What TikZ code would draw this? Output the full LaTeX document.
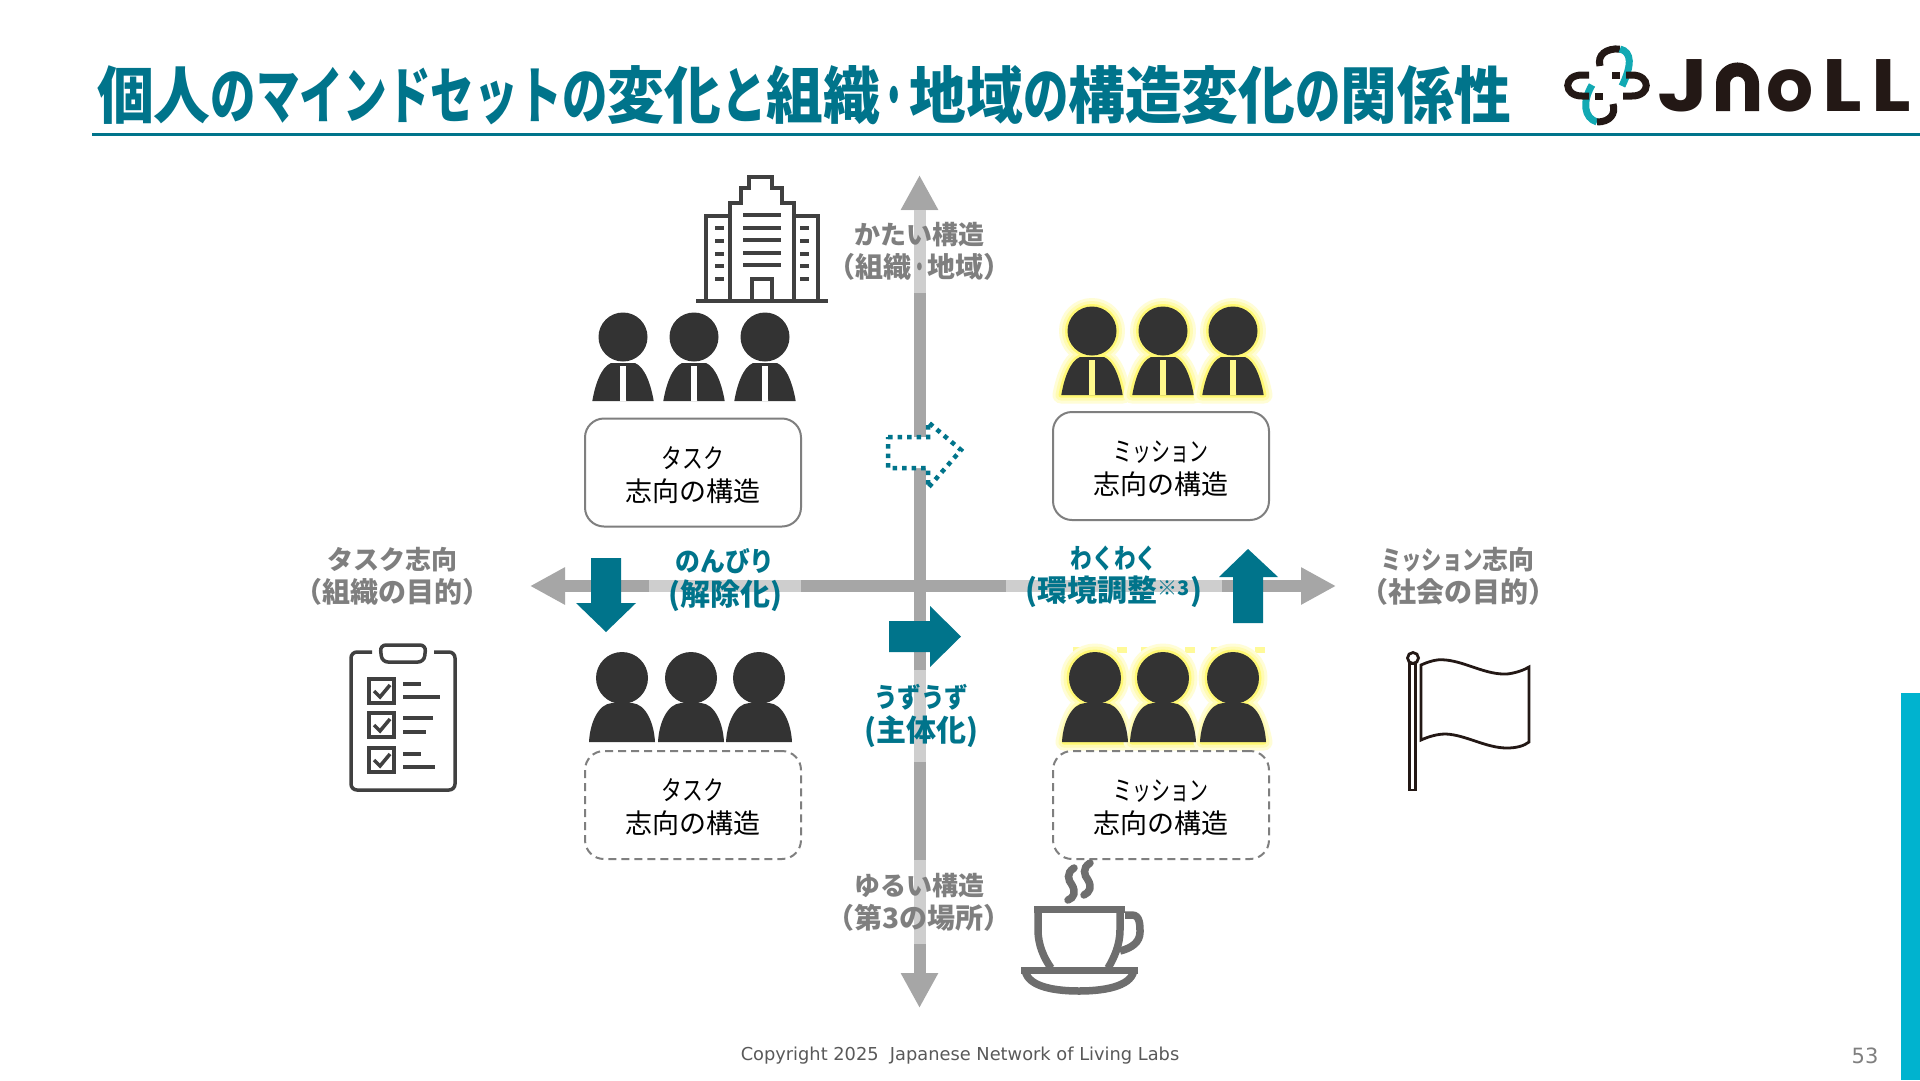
\documentclass[tikz,border=0pt]{standalone}
\usepackage{fontspec}
\usepackage{graphicx}
\setmainfont{Noto Sans CJK JP}
\newfontfamily\titlef{Noto Sans CJK JP Black}
\newfontfamily\latf{DejaVu Sans}
\newfontfamily\logof{Poppins}[BoldFont=* Bold]
\usetikzlibrary{arrows.meta}
\definecolor{teal1}{HTML}{00748B}
\definecolor{gaxis}{HTML}{A6A6A6}
\definecolor{glabel}{HTML}{7F7F7F}
\definecolor{dark1}{HTML}{333333}
\definecolor{icon1}{HTML}{404040}
\definecolor{icon2}{HTML}{6E6E6E}
\definecolor{cyan1}{HTML}{00B3CF}
\definecolor{logoblack}{HTML}{231815}
\definecolor{logoteal}{HTML}{12A9B3}
\newcommand{\kana}[2][.74]{\scalebox{#1}[1]{#2}}
\newcommand{\bigline}[1]{{\fontsize{28}{33}\selectfont #1}}
\newcommand{\tbigline}[1]{{\fontsize{30}{33}\selectfont #1}}
\newcommand{\boxstrut}{\rule{0pt}{27pt}}
\newcommand{\mysuit}[3]{%
  \begin{scope}[shift={(#1,#2)}]
    \fill[dark1] (0,0) circle (24.5);
    \fill[dark1] (-30.7,64) .. controls (-28,48) and (-22,30) .. (-12,26) -- (12,26) .. controls (22,30) and (28,48) .. (30.7,64) -- cycle;
    \fill[#3] (-2.8,29) -- (2.8,29) -- (3,64) -- (-3,64) -- cycle;
  \end{scope}}
\newcommand{\myplain}[2]{%
  \begin{scope}[shift={(#1,#2)}]
    \fill[dark1] (0,0) circle (26);
    \fill[dark1] (-33,64) .. controls (-32,45) and (-24,26) .. (-10,25) -- (10,25) .. controls (24,26) and (32,45) .. (33,64) -- cycle;
  \end{scope}}
\newcommand{\myhalo}[3]{%
  \begin{scope}[shift={(#1,#2)}]
    \foreach \lw/\cc in {17/yellow!16,11/yellow!30,5/yellow!55}{
      \draw[line width=\lw pt,draw=\cc,line join=round] (0,0) circle (#3);
      \draw[line width=\lw pt,draw=\cc,line join=round] (-31,64) .. controls (-28,48) and (-22,30) .. (-12,26) -- (12,26) .. controls (22,30) and (28,48) .. (31,64) -- cycle;
    }
  \end{scope}}
\tikzset{
  axisline/.style={line width=12pt,draw=gaxis,{Triangle[width=35pt,length=35pt]}-{Triangle[width=35pt,length=35pt]}},
  veil/.style={fill=white,fill opacity=.45,text opacity=1,inner sep=0pt,align=center},
  glabeltext/.style={font=\fontsize{26}{33}\selectfont\bfseries,text=glabel},
  tlabeltext/.style={font=\fontsize{27}{34}\selectfont\bfseries,text=teal1},
  plainlabel/.style={inner sep=0pt,align=center},
  solidbox/.style={draw=glabel,line width=2pt,rounded corners=19pt,fill=white,minimum width=216pt,minimum height=108pt,align=center,inner sep=0pt,font=\fontsize{27}{33}\selectfont,text=black},
  dashbox/.style={solidbox,dash pattern=on 8pt off 5pt},
  tealarrow/.style={fill=teal1},
  icon/.style={draw=icon1,line width=4pt,fill=none},
  iconfine/.style={draw=icon1,line width=3.5pt},
  cupline/.style={draw=icon2,line width=7.5pt,line cap=round},
  logoblk/.style={draw=logoblack,line width=7pt},
  logotl/.style={draw=logoteal,line width=7pt},
  logoletter/.style={inner sep=0pt,anchor=base,font=\fontsize{74}{74}\selectfont\logof\bfseries,text=logoblack},
}
\begin{document}
\begin{tikzpicture}[x=1pt,y=-1pt]
\useasboundingbox (0,0) rectangle (1920,1080);
\fill[white] (0,0) rectangle (1920,1080);
% title
\node[inner sep=0pt,anchor=west,text=teal1,font=\fontsize{54}{54}\selectfont\titlef] (title) at (97,95)
  {\resizebox{1414pt}{53pt}{個人\kana[.8]{の}\kana[.77]{マインドセット}\kana[.8]{の}変化\kana[.8]{と}組織\kana[.52]{・}地域\kana[.8]{の}構造変化\kana[.8]{の}関係性}};
\coordinate (ruleL) at (92,134);
\coordinate (ruleR) at (1920,134);
\draw[teal1,line width=3pt] (ruleL) -- (ruleR);
\fill[cyan1] (1901,693) rectangle (1920,1080);
% logo icon
\draw[logoblk] (1600,66) .. controls (1597,55) and (1606,48) .. (1620,49);
\draw[logotl] (1620,49) .. controls (1632,52) and (1632,65) .. (1622,86);
\draw[logotl] (1592,85) .. controls (1582,102) and (1584,118) .. (1597,122);
\draw[logoblk] (1597,122) .. controls (1610,122) and (1616,114) .. (1613,104);
\draw[logoblk] (1589,75) -- (1582,75) .. controls (1563,75) and (1563,96) .. (1582,96) -- (1589,96);
\draw[logoblk] (1612,75) -- (1620,75);
\draw[logoblk] (1626,75) -- (1632,75) .. controls (1651,75) and (1651,96) .. (1632,96) -- (1623,96);
\draw[logoblk] (1595,96) -- (1603,96);
% logo text
\node[logoletter] (logoJ) at (1683,111) {\kana[1.2]{J}};
\draw[draw=logoblack,line width=14pt] (1723,111) -- (1723,84) arc[start angle=180,end angle=360,radius=14.5] -- (1752,111);
\node[logoletter] (logoO) at (1790,111) {o};
\node[logoletter] (logoL) at (1842,111) {\kana[1.12]{L}};
\node[logoletter] (logoLL) at (1891,111) {\kana[1.12]{L}};
% axes
\coordinate (axT) at (919.5,175);
\coordinate (axB) at (919.5,1008);
\coordinate (axL) at (530,586);
\coordinate (axR) at (1336,586);
\draw[axisline] (axT) -- (axB);
\draw[axisline] (axL) -- (axR);
% axis labels
\node[veil,glabeltext,minimum width=170pt,minimum height=83pt] (lblHard) at (919.5,251.5)
  {かたい構造\\\bigline{（組織\kana[.6]{・}地域）}};
\node[veil,glabeltext,minimum width=170pt,minimum height=84pt] (lblSoft) at (919,902)
  {ゆるい構造\\\bigline{（第3の場所）}};
\node[plainlabel,glabeltext] (lblTask) at (392,576)
  {タスク志向\\\bigline{（組織の目的）}};
\node[plainlabel,glabeltext] (lblMission) at (1458,576)
  {\kana[.78]{ミッション}志向\\\bigline{（社会の目的）}};
\node[veil,tlabeltext,minimum width=152pt,minimum height=84pt] (lblNon) at (725,580)
  {\kana[.92]{のんびり}\\\tbigline{(解除化)}};
\node[veil,tlabeltext,minimum width=216pt,minimum height=84pt,font=\fontsize{27}{33}\selectfont\bfseries] (lblWaku) at (1114,576.5)
  {\kana[.8]{わくわく}\\\tbigline{(環境調整{\fontsize{20}{20}\selectfont\raisebox{6pt}{※3}})}};
\node[veil,tlabeltext,minimum width=170pt,minimum height=92pt] (lblUzu) at (921,715.5)
  {\kana[.87]{うずうず}\\\tbigline{(主体化)}};
% teal arrows
\path[tealarrow] (591,558) -- (621,558) -- (621,603) -- (636,603) -- (606,632) -- (576,603) -- (591,603) -- cycle;
\path[tealarrow] (889,621) -- (930,621) -- (930,606) -- (961,636.5) -- (930,667) -- (930,652) -- (889,652) -- cycle;
\path[tealarrow] (1233,623) -- (1233,577) -- (1219,577) -- (1248,549) -- (1278,577) -- (1263,577) -- (1263,623) -- cycle;
\filldraw[draw=teal1,fill=white,line width=4.5pt,dash pattern=on 4.5pt off 5pt]
  (888,437) -- (928,437) -- (928,422) -- (961,450) -- (928,488) -- (928,468) -- (888,468) -- cycle;
% building
\draw[icon] (696,301) -- (828,301);
\draw[icon] (706,301) -- (706,216) -- (730,216);
\draw[icon] (818,301) -- (818,216) -- (794,216);
\draw[icon] (730,301) -- (730,203) -- (741,203) -- (741,188) -- (749,188) -- (749,177) -- (772,177) -- (772,188) -- (782,188) -- (782,203) -- (794,203) -- (794,301);
\draw[icon] (752,301) -- (752,279) -- (772,279) -- (772,301);
\foreach \yy in {215,228,240,253,265}{\draw[icon] (743,\yy) -- (781,\yy);}
\foreach \yy in {228,241,254,266,279}{\draw[icon] (715,\yy) -- (724,\yy); \draw[icon] (800,\yy) -- (809,\yy);}
% people
\mysuit{623}{337}{white}\mysuit{694}{337}{white}\mysuit{765}{337}{white}
\myhalo{1092}{331}{24.5}\myhalo{1163}{331}{24.5}\myhalo{1233}{331}{24.5}
\mysuit{1092}{331}{yellow!45}\mysuit{1163}{331}{yellow!45}\mysuit{1233}{331}{yellow!45}
\myplain{622}{678}\myplain{691}{678}\myplain{759}{678}
\foreach \xx in {1095,1163,1233}{\draw[yellow!40,line width=6pt,dash pattern=on 10pt off 12pt] (\xx-22,650) -- (\xx+35,650);}
\myhalo{1095}{678}{26}\myhalo{1163}{678}{26}\myhalo{1233}{678}{26}
\myplain{1095}{678}\myplain{1163}{678}\myplain{1233}{678}
% boxes
\node[solidbox] (boxA) at (693,472.5) {\boxstrut\kana[.77]{タスク}\\志向の構造};
\node[solidbox] (boxB) at (1161,466) {\boxstrut\kana[.7]{ミッション}\\志向の構造};
\node[dashbox] (boxC) at (693,805) {\boxstrut\kana[.77]{タスク}\\志向の構造};
\node[dashbox] (boxD) at (1161,805) {\boxstrut\kana[.7]{ミッション}\\志向の構造};
% clipboard
\draw[iconfine,rounded corners=6pt] (372,652) -- (351,652) -- (351,790) -- (455,790) -- (455,652) -- (434,652);
\draw[iconfine,rounded corners=6pt] (380,645) -- (426,645) -- (424,662) -- (382,662) -- cycle;
\foreach \ya in {679,713,748}{\draw[icon1,line width=4pt] (369,\ya) rectangle ++(25,24);
  \draw[icon1,line width=3.5pt] (374,\ya+12) -- (380,\ya+18) -- (390,\ya+6);}
\draw[iconfine] (403,684) -- (421,684) (403,697) -- (440,697) (403,718) -- (433,718) (403,732) -- (426,732) (403,754) -- (421,754) (403,767) -- (435,767);
% flag
\draw[draw=logoblack,line width=2.8pt,fill=white] (1409.5,664) rectangle (1415.5,790);
\draw[draw=logoblack,line width=2.8pt,fill=white] (1413,658) circle (5.5);
\draw[draw=logoblack,line width=2.8pt,line join=miter,fill=white] (1421,665) .. controls (1432,660) and (1440,659) .. (1446,660) .. controls (1466,662) and (1486,675) .. (1507,674) .. controls (1516,673) and (1524,670) .. (1529,667)
  -- (1529,742) .. controls (1524,746) and (1516,748) .. (1507,748) .. controls (1486,748) and (1466,735) .. (1446,734) .. controls (1438,734) and (1430,736) .. (1421,740) -- cycle;
% cup
\draw[cupline,line cap=butt] (1034,909.5) -- (1125,909.5);
\draw[cupline,line cap=butt] (1038,906) -- (1038,930) .. controls (1038,945) and (1044,958) .. (1051,968);
\draw[cupline,line cap=butt] (1120,906) -- (1120,930) .. controls (1120,945) and (1114,958) .. (1108,968);
\draw[cupline,line cap=butt] (1125,915) -- (1132,915) .. controls (1140,915) and (1140,925) .. (1140,932) .. controls (1140,942) and (1132,948) .. (1120,951);
\draw[cupline,line cap=butt] (1021,970.5) -- (1138,970.5);
\draw[cupline,line cap=butt] (1025,968) .. controls (1025,985) and (1050,991) .. (1079,991) .. controls (1108,991) and (1134,985) .. (1134,968);
\draw[cupline] (1074,868) .. controls (1066,873) and (1068,880) .. (1072,885) .. controls (1076,892) and (1074,898) .. (1068,900);
\draw[cupline] (1090,863) .. controls (1082,868) and (1084,875) .. (1088,880) .. controls (1092,887) and (1090,892) .. (1084,895);
% footer
\node[inner sep=0pt,text=black!65,font=\fontsize{17.8}{20}\selectfont\latf] (footer) at (960,1056) {Copyright 2025\ \ Japanese Network of Living Labs};
\node[inner sep=0pt,text=glabel,font=\fontsize{21}{22}\selectfont\latf] (pageno) at (1865,1056) {53};
\end{tikzpicture}
\end{document}
